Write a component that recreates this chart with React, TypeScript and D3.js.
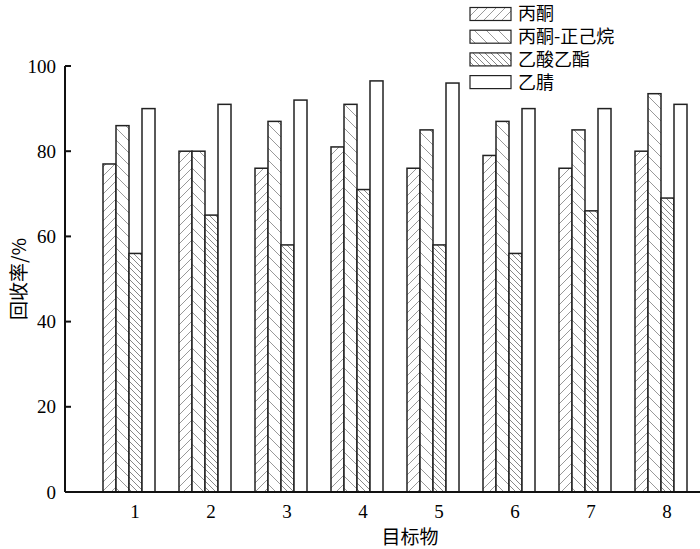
import React, { useEffect, useRef } from "react";
import * as d3 from "d3";

const categories = ["1", "2", "3", "4", "5", "6", "7", "8"];
const seriesNames = ["丙酮", "丙酮-正己烷", "乙酸乙酯", "乙腈"];
const acetone = [77, 80, 76, 81, 76, 79, 76, 80];
const acetoneHexane = [86, 80, 87, 91, 85, 87, 85, 93.5];
const ethylAcetate = [56, 65, 58, 71, 58, 56, 66, 69];
const acetonitrile = [90, 91, 92, 96.5, 96, 90, 90, 91];
const yTicks = [0, 20, 40, 60, 80, 100];

const seriesValues = [acetone, acetoneHexane, ethylAcetate, acetonitrile];
const fills = ["url(#hatchA)", "url(#hatchB)", "url(#hatchC)", "#fff"];

const App = () => {
    const ref = useRef(null);

    useEffect(() => {
        const svg = d3.select(ref.current);
        svg.selectAll("*").remove();

        const defs = svg.append("defs");
        const hatch = (id, size, dir, color, sw) => {
            const p = defs.append("pattern")
                .attr("id", id)
                .attr("patternUnits", "userSpaceOnUse")
                .attr("width", size)
                .attr("height", size);
            p.append("rect").attr("width", size).attr("height", size).attr("fill", "#fff");
            const d = dir > 0
                ? `M0,${size} L${size},0 M${-size / 2},${size / 2} L${size / 2},${-size / 2} M${size / 2},${size * 1.5} L${size * 1.5},${size / 2}`
                : `M0,0 L${size},${size} M${-size / 2},${size / 2} L${size / 2},${size * 1.5} M${size / 2},${-size / 2} L${size * 1.5},${size / 2}`;
            p.append("path").attr("d", d).attr("stroke", color).attr("stroke-width", sw);
        };
        hatch("hatchA", 9, 1, "#999", 1);
        hatch("hatchB", 12, -1, "#999", 1);
        hatch("hatchC", 6, -1, "#888", 1);

        const x0 = d3.scaleBand().domain(categories).range([91, 699]).paddingInner(24 / 76).paddingOuter(12 / 76);
        const x1 = d3.scaleBand().domain(d3.range(4)).range([0, x0.bandwidth()]);
        const y = d3.scaleLinear().domain([0, 100]).range([492, 66]);

        const g = svg.append("g");
        categories.forEach((c, i) => {
            seriesValues.forEach((vals, s) => {
                g.append("rect")
                    .attr("x", x0(c) + x1(s))
                    .attr("y", y(vals[i]))
                    .attr("width", x1.bandwidth())
                    .attr("height", y(0) - y(vals[i]))
                    .attr("fill", fills[s])
                    .attr("stroke", "#222")
                    .attr("stroke-width", 1.5);
            });
        });

        // axes
        svg.append("line").attr("x1", 65).attr("x2", 700).attr("y1", y(0)).attr("y2", y(0))
            .attr("stroke", "#111").attr("stroke-width", 2);
        svg.append("line").attr("x1", 65).attr("x2", 65).attr("y1", y(0)).attr("y2", y(100))
            .attr("stroke", "#111").attr("stroke-width", 2);

        yTicks.forEach(t => {
            svg.append("line").attr("x1", 65).attr("x2", 71).attr("y1", y(t)).attr("y2", y(t))
                .attr("stroke", "#111").attr("stroke-width", 2);
            svg.append("text")
                .attr("x", 56).attr("y", y(t)).attr("dy", "0.35em")
                .attr("text-anchor", "end")
                .style("font-family", "Liberation Serif")
                .style("font-size", "19px")
                .text(t);
        });

        categories.forEach(c => {
            svg.append("text")
                .attr("x", x0(c) + x0.bandwidth() / 2 + 6).attr("y", 518)
                .attr("text-anchor", "middle")
                .style("font-family", "Liberation Serif")
                .style("font-size", "19px")
                .text(c);
        });

        svg.append("text")
            .attr("x", 410).attr("y", 544)
            .attr("text-anchor", "middle")
            .style("font-family", "Noto Sans CJK SC")
            .style("font-size", "19px")
            .text("目标物");

        svg.append("text")
            .attr("transform", "translate(26,279) rotate(-90)")
            .attr("text-anchor", "middle")
            .style("font-family", "Noto Sans CJK SC")
            .style("font-size", "19px")
            .text("回收率/%");

        // legend
        const lg = svg.append("g");
        seriesNames.forEach((name, s) => {
            const yy = 7.5 + s * 22.7;
            lg.append("rect").attr("x", 470).attr("y", yy).attr("width", 41).attr("height", 13)
                .attr("fill", fills[s]).attr("stroke", "#222").attr("stroke-width", 1.2);
            lg.append("text").attr("x", 518).attr("y", yy + 6.5).attr("dy", "0.36em")
                .style("font-family", "Noto Sans CJK SC")
                .style("font-size", "18px")
                .text(name);
        });
    }, []);

    return (
        <svg ref={ref} width={700} height={549} style={{ position: "absolute", left: 0, top: 0, background: "#fff" }} />
    );
};

export default App;
